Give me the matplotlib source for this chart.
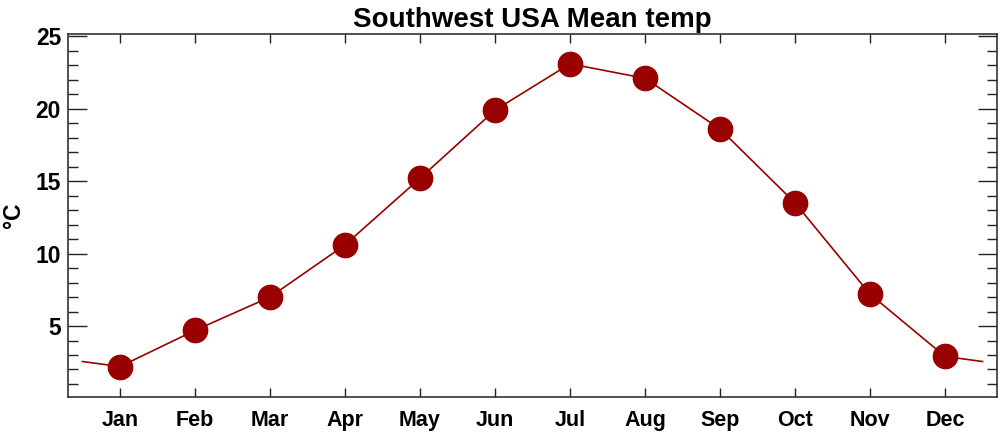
import matplotlib
matplotlib.use('Agg')
import matplotlib.pyplot as plt
from matplotlib.ticker import MultipleLocator

plt.rcParams['font.family'] = ['Liberation Sans', 'DejaVu Sans']
plt.rcParams['font.weight'] = 'bold'

months = ['Jan', 'Feb', 'Mar', 'Apr', 'May', 'Jun',
          'Jul', 'Aug', 'Sep', 'Oct', 'Nov', 'Dec']
temps = [2.2, 4.7, 7.0, 10.6, 15.2, 19.9, 23.1, 22.1, 18.6, 13.5, 7.2, 2.9]

x = list(range(1, 13))
# line wraps round the year: half a month past each end
wrap = (temps[0] + temps[-1]) / 2
line_x = [0.5] + x + [12.5]
line_y = [wrap] + temps + [wrap]

fig = plt.figure(figsize=(10, 4.32), dpi=100)
ax = fig.add_axes([0.068, 0.081, 0.929, 0.84])

ax.plot(line_x, line_y, color='#990000', lw=1.2, zorder=2)
ax.plot(x, temps, 'o', color='#990000', ms=17.5, zorder=3)

ax.set_xlim(0.307, 12.693)
ax.set_ylim(0.1, 25.15)
ax.set_xticks(x)
ax.set_xticklabels(months)
ax.yaxis.set_major_locator(MultipleLocator(5))
ax.yaxis.set_minor_locator(MultipleLocator(1))
ax.set_yticks([5, 10, 15, 20, 25])

ax.tick_params(axis='y', which='major', direction='in', length=13.5, width=1,
               left=True, right=True, labelsize=16.5, pad=5, color='#222222')
ax.tick_params(axis='y', which='minor', direction='in', length=7, width=1,
               left=True, right=True, color='#222222')
ax.tick_params(axis='x', which='major', direction='in', length=6.5, width=1,
               top=True, bottom=True, labelsize=15.5, pad=9, color='#222222')
ax.tick_params(axis='x', which='minor', bottom=False, top=False)

for s in ax.spines.values():
    s.set_linewidth(1.2)
    s.set_color('#333333')

ax.set_ylabel('°C', fontsize=16.5, fontweight='bold', va='center')
ax.yaxis.set_label_coords(-0.059, 0.5)
ax.set_title('Southwest USA Mean temp', fontsize=20, fontweight='bold', pad=5)

fig.savefig('out.png', dpi=100)
